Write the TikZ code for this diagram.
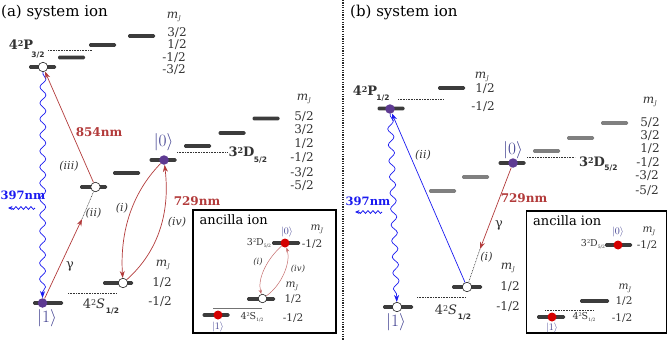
\documentclass[tikz,border=0pt]{standalone}
\usepackage{fontspec}
\setmainfont{DejaVu Serif}
\setsansfont{DejaVu Sans}
\usetikzlibrary{arrows.meta,decorations.pathmorphing}
\newcommand\fsz[1]{\fontsize{#1}{#1}\selectfont}
\newcommand\mJ{\textit{m}\raisebox{-0.4ex}{\fsz{6}\textit{J}}}
\newcommand\lvlP[1]{\bfseries 4\raisebox{0.55ex}{\fsz{8}2}P}
\definecolor{bargray}{HTML}{3C3C3C}
\definecolor{lbar}{HTML}{808080}
\definecolor{purp}{HTML}{5E3A92}
\definecolor{ketc}{HTML}{3F3F8F}
\definecolor{redc}{HTML}{B23A3A}
\definecolor{bluec}{HTML}{1A1AF0}
\definecolor{inred}{HTML}{D40000}
\definecolor{txt}{HTML}{333333}
\begin{document}
\begin{tikzpicture}[x=1pt,y=-1pt,
  bar/.style={fill=bargray,inner sep=0pt,minimum width=27pt,minimum height=3.6pt,rounded corners=1.2pt},
  lbarr/.style={bar,fill=lbar},
  wbar/.style={bar,minimum width=30pt},
  pdot/.style={circle,fill=purp,inner sep=0pt,minimum size=9.5pt},
  odot/.style={circle,fill=white,draw=black!85,line width=0.6pt,inner sep=0pt,minimum size=9.5pt},
  rdot/.style={circle,fill=inred,inner sep=0pt,minimum size=9pt},
  mj/.style={text=txt,font=\fsz{12},inner sep=0pt},
  mjs/.style={text=txt,font=\fsz{10.5},inner sep=0pt},
  refl/.style={draw=black!80,line width=0.55pt,dash pattern=on 0.8pt off 0.8pt},
  redarr/.style={draw=redc,line width=0.7pt,-{Stealth[length=7pt,width=5pt]}},
  inarr/.style={draw=redc!75,line width=0.5pt,-{Stealth[length=4.5pt,width=3.2pt]}},
  bluearr/.style={draw=bluec,line width=0.7pt,-{Stealth[length=7pt,width=5pt]}},
  bluew/.style={draw=bluec,line width=0.7pt,-{Stealth[length=7pt,width=5pt]},decorate,
     decoration={snake,amplitude=3pt,segment length=16pt,post length=6pt,pre length=2pt}},
  smallw/.style={draw=bluec,line width=0.8pt,-{Stealth[length=4.5pt,width=4pt]},decorate,
     decoration={snake,amplitude=1.4pt,segment length=5pt,post length=3pt}},
  ket/.style={text=ketc,font=\fsz{16},inner sep=0pt},
  redlab/.style={text=redc,font=\fsz{12}\bfseries,inner sep=0pt},
  bluelab/.style={text=bluec,font=\fsz{11.5}\bfseries,inner sep=0pt},
  tlab/.style={text=txt,font=\fsz{11}\itshape,inner sep=0pt},
  lvl/.style={text=txt,font=\fsz{13},inner sep=0pt},
  sub/.style={text=txt,font=\fsz{7.5}\sffamily\bfseries,inner sep=0pt},
  box/.style={draw=black,line width=1.2pt}
]
\useasboundingbox (0,0) rectangle (668,340);

%================ panel (a) ================
\node[font=\fsz{15},anchor=west,inner sep=0pt] (ta) at (1,12) {(a) system ion};

% P3/2 levels
\node[bar] (Pa1) at (42.5,67) {};
\node[bar] (Pa2) at (71.5,57.5) {};
\node[bar] (Pa3) at (102.5,45) {};
\node[bar] (Pa4) at (141.5,36) {};
\coordinate (paL) at (48,50.5);
\coordinate (paR) at (92,50.5);
\draw[refl] (paL) -- (paR);
\node[lvl] (Pal) at (21,45) {\lvlP{}};
\node[sub] (Pas) at (38,55.5) {3/2};
\node[mj] (mjPa) at (174,17) {\mJ};
\node[mj] (pa1) at (177,33) {3/2};
\node[mj] (pa2) at (177,45) {1/2};
\node[mj] (pa3) at (174,57.5) {-1/2};
\node[mj] (pa4) at (174,70) {-3/2};

% D5/2 levels
\node[bar] (Da1) at (93.5,187) {};
\node[bar] (Da2) at (126.5,173) {};
\node[bar] (Da3) at (163,160) {};
\node[bar] (Da4) at (197.5,146) {};
\node[bar] (Da5) at (232,133) {};
\node[bar] (Da6) at (266,118.5) {};
\coordinate (daL) at (177,152.5);
\coordinate (daR) at (227,152.5);
\draw[refl] (daL) -- (daR);
\node[lvl,font=\fsz{13}\bfseries] (Dal) at (241.5,152) {3\raisebox{0.55ex}{\fsz{8}2}D};
\node[sub] (Das) at (260.5,160.5) {5/2};
\node[ket] (k0a) at (163.5,142) {$|0\rangle$};
\node[mj] (mjDa) at (304,99) {\mJ};
\node[mj] (da1) at (304,116.5) {5/2};
\node[mj] (da2) at (304,130) {3/2};
\node[mj] (da3) at (304,144) {1/2};
\node[mj] (da4) at (302,158) {-1/2};
\node[mj] (da5) at (302,172.5) {-3/2};
\node[mj] (da6) at (302,186) {-5/2};

% S1/2 levels
\node[wbar] (Sa1) at (48,303) {};
\node[wbar] (Sa2) at (118,283) {};
\coordinate (saL) at (68,293);
\coordinate (saR) at (117,293);
\draw[refl] (saL) -- (saR);
\node[lvl] (Sal) at (94,304) {4\raisebox{0.55ex}{\fsz{8}2}\textit{S}};
\node[sub] (Sas) at (112.5,311) {1/2};
\node[ket] (k1a) at (47,318) {$|1\rangle$};
\node[mj] (mjSa) at (163,265) {\mJ};
\node[mj] (sa1) at (162,282.5) {1/2};
\node[mj] (sa2) at (160,302) {-1/2};

% dots
\node[odot] (Pac) at (43,67) {};
\node[odot] (Dac) at (95.5,187) {};
\node[pdot] (D0a) at (164,160) {};
\node[pdot] (S1a) at (42.5,303) {};
\node[odot] (S2a) at (123,283) {};

% transitions (a)
\draw[bluew] (Pac) -- (S1a);
\coordinate (wa1) at (35,208);
\coordinate (wa2) at (8,208);
\draw[smallw] (wa1) -- (wa2);
\node[bluelab,anchor=west] (l397a) at (0.5,195) {397nm};
\draw[redarr] (Dac) -- (Pac);
\node[redlab] (l854) at (99,132) {854nm};
\node[tlab] (iiia) at (69,166.5) {(iii)};
\coordinate (ga) at (82,219);
\draw[redarr] (S1a) -- (ga);
\draw[refl] (ga) -- (Dac);
\node[tlab] (iia) at (93.5,213) {(ii)};
\node[text=txt,font=\fsz{13},inner sep=0pt] (gama) at (70,266) {γ};
\draw[redarr] (D0a) .. controls (130,195) and (120,235) .. (S2a);
\draw[redarr] (S2a) .. controls (160,250) and (170,210) .. (D0a);
\node[tlab] (ia) at (122,208) {(i)};
\node[tlab] (iva) at (177,222) {(iv)};
\node[redlab] (l729a) at (197,201) {729nm};

% inset (a)
\draw[box] (193,210) rectangle (336,333);
\node[font=\fsz{13},anchor=west,inner sep=0pt] (anca) at (199.5,220) {ancilla ion};
\node[bar,minimum width=28pt] (IDa) at (286,243) {};
\node[rdot] (I0a) at (285,243) {};
\node[text=ketc,font=\fsz{10},inner sep=0pt] (ik0a) at (287,232) {$|0\rangle$};
\node[text=txt,font=\fsz{9.5},inner sep=0pt] (iDla) at (259,243) {3\raisebox{0.5ex}{\fsz{5}2}D\raisebox{-0.5ex}{\fsz{4.5}5/2}};
\node[mjs] (imj1a) at (317,229.5) {\mJ};
\node[mjs] (iv1a) at (312,244) {-1/2};
\node[bar,minimum width=28pt] (ISa) at (261,299) {};
\node[odot,minimum size=8.5pt] (ISca) at (262.5,298.5) {};
\node[mjs] (imj2a) at (292,286) {\mJ};
\node[mjs] (iv2a) at (293,299) {1/2};
\node[bar,minimum width=27pt] (I1ba) at (216,315) {};
\node[rdot] (I1a) at (218,315) {};
\coordinate (ilL) at (213,308);
\coordinate (ilR) at (262,308);
\draw[draw=black!55,line width=0.5pt] (ilL) -- (ilR);
\node[text=ketc,font=\fsz{10},inner sep=0pt] (ik1a) at (218,326.5) {$|1\rangle$};
\node[text=txt,font=\fsz{9.5},inner sep=0pt] (iSla) at (252,317) {4\raisebox{0.5ex}{\fsz{5}2}S\raisebox{-0.5ex}{\fsz{4.5}1/2}};
\node[mjs] (iv3a) at (293,318) {-1/2};
\draw[inarr] (I0a) .. controls (268,258) and (257,278) .. (ISca);
\draw[inarr] (ISca) .. controls (282,285) and (291,262) .. (I0a);
\node[tlab,font=\fsz{8.5}\itshape] (iia2) at (258,262) {(i)};
\node[tlab,font=\fsz{8.5}\itshape] (iiva2) at (298,269) {(iv)};

% separator
\coordinate (sepT) at (343,0);
\coordinate (sepB) at (343,340);
\draw[draw=black!85,line width=1.4pt,dash pattern=on 1.2pt off 1.2pt] (sepT) -- (sepB);

%================ panel (b) ================
\node[font=\fsz{15},anchor=west,inner sep=0pt] (tb) at (350,12) {(b) system ion};

% P1/2
\node[bar] (Pb1) at (391,108.5) {};
\node[bar] (Pb2) at (451.5,88) {};
\coordinate (pbL) at (398,99);
\coordinate (pbR) at (443,99);
\draw[refl] (pbL) -- (pbR);
\node[lvl] (Pbl) at (365,91) {\lvlP{}};
\node[sub] (Pbs) at (383,98) {1/2};
\node[mj] (mjPb) at (482,77) {\mJ};
\node[mj] (pb1) at (485,88.5) {1/2};
\node[mj] (pb2) at (483,107) {-1/2};

% D5/2
\node[lbarr] (Db1) at (442.5,191) {};
\node[lbarr] (Db2) at (475.5,177) {};
\node[bar] (Db3) at (512,163) {};
\node[lbarr] (Db4) at (546.5,151) {};
\node[lbarr] (Db5) at (580.5,138) {};
\node[lbarr] (Db6) at (614.5,123) {};
\coordinate (dbL) at (527,157);
\coordinate (dbR) at (575,157);
\draw[refl] (dbL) -- (dbR);
\node[lvl,font=\fsz{13}\bfseries] (Dbl) at (592,162) {3\raisebox{0.55ex}{\fsz{8}2}D};
\node[sub] (Dbs) at (611,168) {5/2};
\node[ket] (k0b) at (513,150) {$|0\rangle$};
\node[mj] (mjDb) at (650,102) {\mJ};
\node[mj] (db1) at (650,123) {5/2};
\node[mj] (db2) at (650,136) {3/2};
\node[mj] (db3) at (650,149) {1/2};
\node[mj] (db4) at (648,163) {-1/2};
\node[mj] (db5) at (647,176) {-3/2};
\node[mj] (db6) at (647,191) {-5/2};

% S1/2
\node[wbar] (Sb1) at (398,307) {};
\node[wbar] (Sb2) at (467,287) {};
\coordinate (sbL) at (417,297);
\coordinate (sbR) at (466,297);
\draw[refl] (sbL) -- (sbR);
\node[lvl] (Sbl) at (446,310) {4\raisebox{0.55ex}{\fsz{8}2}\textit{S}};
\node[sub] (Sbs) at (464.5,317) {1/2};
\node[ket] (k1b) at (396,322) {$|1\rangle$};
\node[mj] (mjSb) at (508,268) {\mJ};
\node[mj] (sb1) at (510,287) {1/2};
\node[mj] (sb2) at (508,307) {-1/2};

% dots
\node[pdot] (Pbc) at (390,109) {};
\node[pdot] (D0b) at (513,163) {};
\node[odot] (S1b) at (397,307) {};
\node[odot] (S2b) at (467,287) {};

% transitions (b)
\draw[bluew] (Pbc) -- (S1b);
\coordinate (wb1) at (382,212);
\coordinate (wb2) at (355,212);
\draw[smallw] (wb1) -- (wb2);
\node[bluelab] (l397b) at (368,201) {397nm};
\draw[bluearr] (S2b) -- (Pbc);
\node[tlab] (iib) at (423,155) {(ii)};
\coordinate (gb) at (480,249);
\draw[redarr] (D0b) -- (gb);
\draw[refl] (gb) -- (S2b);
\node[text=txt,font=\fsz{13},inner sep=0pt] (gamb) at (499,225) {γ};
\node[tlab] (ib) at (486.5,257) {(i)};
\node[redlab] (l729b) at (524,198) {729nm};

% inset (b)
\draw[box] (526.5,211) rectangle (666.5,333);
\node[font=\fsz{13},anchor=west,inner sep=0pt] (ancb) at (533,221) {ancilla ion};
\node[bar,minimum width=27pt] (IDb) at (618.5,245) {};
\node[rdot] (I0b) at (618,245) {};
\node[text=ketc,font=\fsz{10},inner sep=0pt] (ik0b) at (618,232) {$|0\rangle$};
\node[text=txt,font=\fsz{9.5},inner sep=0pt] (iDlb) at (593,244) {3\raisebox{0.5ex}{\fsz{5}2}D\raisebox{-0.5ex}{\fsz{4.5}5/2}};
\node[mjs] (imj1b) at (649,231) {\mJ};
\node[mjs] (iv1b) at (647,245) {-1/2};
\node[bar,minimum width=29pt] (ISb) at (594.5,301) {};
\node[mjs] (imj2b) at (625,288) {\mJ};
\node[mjs] (iv2b) at (624,301) {1/2};
\coordinate (ilLb) at (545,310);
\coordinate (ilRb) at (594,310);
\draw[refl] (ilLb) -- (ilRb);
\node[bar,minimum width=28pt] (I1bb) at (551,317) {};
\node[rdot] (I1b) at (552,317) {};
\node[text=ketc,font=\fsz{10},inner sep=0pt] (ik1b) at (552,327.5) {$|1\rangle$};
\node[text=txt,font=\fsz{9.5},inner sep=0pt] (iSlb) at (584,317) {4\raisebox{0.5ex}{\fsz{5}2}S\raisebox{-0.5ex}{\fsz{4.5}1/2}};
\node[mjs] (iv3b) at (622,318) {-1/2};
\end{tikzpicture}
\end{document}
